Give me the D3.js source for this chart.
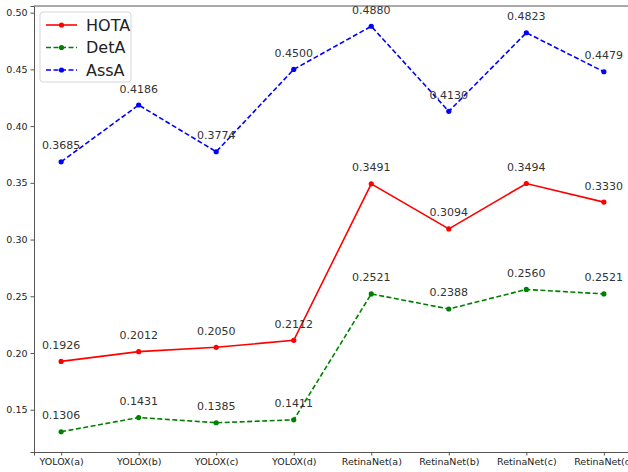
<!DOCTYPE html>
<html>
<head>
<meta charset="utf-8">
<script src="https://cdn.jsdelivr.net/npm/d3@7"></script>
<style>
  body { margin: 0; background: #fff; }
  text { font-family: "DejaVu Sans", sans-serif; }
</style>
</head>
<body>
<svg width="628" height="472"></svg>
<script>
var categories = ["YOLOX(a)", "YOLOX(b)", "YOLOX(c)", "YOLOX(d)",
                  "RetinaNet(a)", "RetinaNet(b)", "RetinaNet(c)", "RetinaNet(d)"];
var hota = [0.1926, 0.2012, 0.2050, 0.2112, 0.3491, 0.3094, 0.3494, 0.3330];
var deta = [0.1306, 0.1431, 0.1385, 0.1411, 0.2521, 0.2388, 0.2560, 0.2521];
var assa = [0.3685, 0.4186, 0.3774, 0.4500, 0.4880, 0.4130, 0.4823, 0.4479];
var yTicks = [0.15, 0.20, 0.25, 0.30, 0.35, 0.40, 0.45, 0.50];

var series = [
  {name: "HOTA", values: hota, color: "#ff0000", dash: null},
  {name: "DetA", values: deta, color: "#008000", dash: "5,2.5"},
  {name: "AssA", values: assa, color: "#0000ff", dash: "5,2.5"}
];

var svg = d3.select("svg"),
    plot = {left: 34, right: 631, top: 6, bottom: 452};

var all = hota.concat(deta, assa),
    lo = d3.min(all), hi = d3.max(all), pad = (hi - lo) * 0.05;

var x = d3.scaleLinear().domain([-0.35, categories.length - 1 + 0.35]).range([plot.left, plot.right]),
    y = d3.scaleLinear().domain([lo - pad, hi + pad]).range([plot.bottom, plot.top]);

function styleAxis(g) {
  g.select(".domain").attr("stroke", "#555");
  g.selectAll(".tick line").attr("stroke", "#555");
  g.selectAll("text").attr("font-size", 9.5).attr("fill", "#222")
    .style("font-family", "DejaVu Sans, sans-serif");
}

// axes
svg.append("g")
    .attr("transform", "translate(0," + plot.bottom + ")")
    .call(d3.axisBottom(x).tickValues(d3.range(categories.length))
      .tickFormat(function(i) { return categories[i]; }).tickSizeOuter(0).tickSize(3.5).tickPadding(3))
    .call(styleAxis);

svg.append("g")
    .attr("transform", "translate(" + plot.left + ",0)")
    .call(d3.axisLeft(y).tickValues(yTicks).tickFormat(d3.format(".2f")).tickSizeOuter(0).tickSize(3.5).tickPadding(3))
    .call(styleAxis);

svg.append("line")
    .attr("x1", plot.left).attr("x2", plot.right).attr("y1", plot.top).attr("y2", plot.top)
    .attr("stroke", "#555");

var line = d3.line()
    .x(function(d, i) { return x(i); })
    .y(function(d) { return y(d); });

series.forEach(function(s) {
  svg.append("path")
      .datum(s.values)
      .attr("fill", "none")
      .attr("stroke", s.color)
      .attr("stroke-width", 1.6)
      .attr("stroke-dasharray", s.dash)
      .attr("d", line);

  svg.selectAll(null)
    .data(s.values)
    .enter().append("circle")
      .attr("cx", function(d, i) { return x(i); })
      .attr("cy", function(d) { return y(d); })
      .attr("r", 2.6)
      .attr("fill", s.color);

  svg.selectAll(null)
    .data(s.values)
    .enter().append("text")
      .attr("x", function(d, i) { return x(i); })
      .attr("y", function(d) { return y(d) - 12.5; })
      .attr("text-anchor", "middle")
      .attr("font-size", 11)
      .attr("fill", "#333")
      .text(function(d) { return d.toFixed(4); });
});

// legend
var legend = svg.append("g").attr("transform", "translate(40,12)");
legend.append("rect")
    .attr("width", 91).attr("height", 70).attr("rx", 3)
    .attr("fill", "#fff").attr("fill-opacity", 0.8)
    .attr("stroke", "#d6d6d6");

var item = legend.selectAll(".item")
    .data(series)
  .enter().append("g")
    .attr("transform", function(d, i) { return "translate(0," + (13 + i * 22.5) + ")"; });

item.append("line")
    .attr("x1", 6).attr("x2", 37)
    .attr("stroke", function(d) { return d.color; })
    .attr("stroke-width", 1.6)
    .attr("stroke-dasharray", function(d) { return d.dash; });
item.append("circle")
    .attr("cx", 21.5).attr("r", 2.6)
    .attr("fill", function(d) { return d.color; });
item.append("text")
    .attr("x", 46).attr("dy", "0.35em")
    .attr("font-size", 16)
    .attr("fill", "#222")
    .text(function(d) { return d.name; });
</script>
</body>
</html>
